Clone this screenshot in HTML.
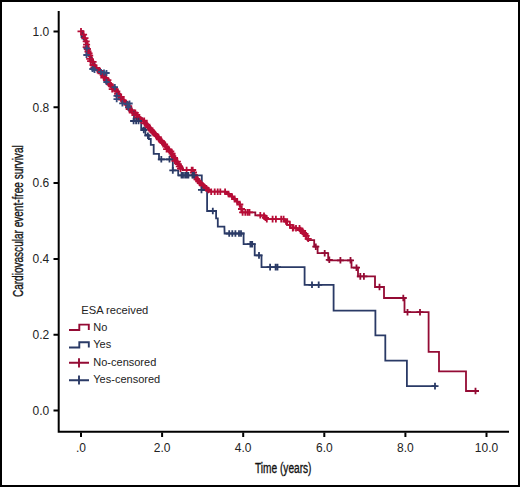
<!DOCTYPE html>
<html><head><meta charset="utf-8"><style>
html,body{margin:0;padding:0;background:#fff;}
body{width:520px;height:487px;position:relative;overflow:hidden;}
#frame{position:absolute;left:0;top:0;width:520px;height:487px;box-sizing:border-box;border:2px solid #000;background:#fff;}
</style></head><body><div id="frame"></div>
<svg width="520" height="487" viewBox="0 0 520 487" style="position:absolute;left:0;top:0">
<g stroke="#000" stroke-width="2" fill="none">
<path d="M58.7,11V432.7M57.7,431.7H509"/>
<path d="M53.5,410.6H58M53.5,334.8H58M53.5,259.0H58M53.5,183.1H58M53.5,107.3H58M53.5,31.5H58M81.0,432.5V437M162.1,432.5V437M243.2,432.5V437M324.3,432.5V437M405.4,432.5V437M486.5,432.5V437"/>
</g>
<g font-family="'Liberation Sans', sans-serif" font-size="12" fill="#222">
<text x="49.3" y="414.9" text-anchor="end">0.0</text>
<text x="49.3" y="339.1" text-anchor="end">0.2</text>
<text x="49.3" y="263.3" text-anchor="end">0.4</text>
<text x="49.3" y="187.4" text-anchor="end">0.6</text>
<text x="49.3" y="111.6" text-anchor="end">0.8</text>
<text x="49.3" y="35.8" text-anchor="end">1.0</text>
<text x="81.0" y="452" text-anchor="middle">.0</text>
<text x="162.1" y="452" text-anchor="middle">2.0</text>
<text x="243.2" y="452" text-anchor="middle">4.0</text>
<text x="324.3" y="452" text-anchor="middle">6.0</text>
<text x="405.4" y="452" text-anchor="middle">8.0</text>
<text x="486.5" y="452" text-anchor="middle">10.0</text>
</g>
<g font-family="'Liberation Sans', sans-serif" font-size="14" fill="#111" stroke="#111" stroke-width="0.35">
<text x="255" y="473" textLength="56.5" lengthAdjust="spacingAndGlyphs">Time (years)</text>
<text transform="translate(22.6,297.1) rotate(-90)" x="0" y="0" textLength="151.8" lengthAdjust="spacingAndGlyphs">Cardiovascular event-free survival</text>
</g>
<g fill="none" stroke-width="1.8" stroke-linejoin="miter" stroke-linecap="butt">
<path stroke="#940B34" d="M81.0,31.2L83.0,31.2L83.0,34.2L83.6,34.2L83.6,36.2L84.2,36.2L84.2,38.3L85.2,38.3L85.2,40.3L86.1,40.3L86.1,42.4L86.4,42.4L86.4,44.3L86.6,44.3L86.6,46.3L86.9,46.3L86.9,48.2L87.8,48.2L87.8,50.2L88.7,50.2L88.7,52.3L89.0,52.3L89.0,54.0L89.3,54.0L89.3,55.6L90.4,55.6L90.4,58.0L91.6,58.0L91.6,60.5L92.8,60.5L92.8,63.0L93.9,63.0L93.9,65.6L95.0,65.6L95.0,68.2L97.5,68.2L97.5,70.1L100.0,70.1L100.0,72.0L102.0,72.0L102.0,74.2L104.0,74.2L104.0,76.4L105.5,76.4L105.5,78.5L107.0,78.5L107.0,80.5L108.2,80.5L108.2,82.6L109.4,82.6L109.4,84.7L112.5,84.7L112.5,88.0L114.3,88.0L114.3,89.5L116.2,89.5L116.2,90.9L117.8,90.9L117.8,93.4L119.5,93.4L119.5,95.9L120.8,95.9L120.8,98.0L122.0,98.0L122.0,100.0L123.8,100.0L123.8,102.0L125.7,102.0L125.7,104.0L127.3,104.0L127.3,106.1L129.0,106.1L129.0,108.2L130.5,108.2L130.5,110.2L132.0,110.2L132.0,112.3L134.5,112.3L134.5,113.6L137.0,113.6L137.0,116.5L138.8,116.5L138.8,117.5L140.5,117.5L140.5,118.5L142.3,118.5L142.3,120.4L144.2,120.4L144.2,122.3L146.0,122.3L146.0,124.2L147.9,124.2L147.9,126.2L149.8,126.2L149.8,128.3L151.6,128.3L151.6,130.3L153.5,130.3L153.5,132.4L155.1,132.4L155.1,134.5L156.6,134.5L156.6,136.6L158.1,136.6L158.1,138.6L159.7,138.6L159.7,140.7L161.6,140.7L161.6,142.8L163.5,142.8L163.5,145.0L165.2,145.0L165.2,146.6L167.0,146.6L167.0,148.2L168.4,148.2L168.4,150.2L169.9,150.2L169.9,152.3L171.4,152.3L171.4,154.3L172.8,154.3L172.8,156.4L174.2,156.4L174.2,158.5L175.7,158.5L175.7,160.6L177.1,160.6L177.1,162.6L178.5,162.6L178.5,164.7L180.2,164.7L180.2,166.6L182.0,166.6L182.0,168.5L182.5,170.0L192.7,170.0L193.4,170.0L193.4,172.2L194.1,172.2L194.1,174.5L194.8,174.5L194.8,176.7L196.8,176.7L196.8,179.1L198.9,179.1L198.9,181.5L200.9,181.5L200.9,183.9L203.4,183.9L203.4,186.0L206.0,186.0L206.0,188.2L208.5,188.2L208.5,190.3L210.0,190.3L210.0,191.7L210.0,191.7L225.1,191.7L225.1,193.0L228.5,193.0L228.5,195.1L232.0,195.1L232.0,197.7L234.6,197.7L234.6,200.3L237.2,200.3L237.2,202.9L239.8,202.9L239.8,206.4L241.5,206.4L241.5,212.4L255.3,212.4L255.3,215.3L264.5,215.3L264.5,217.2L266.0,217.2L266.0,219.1L284.6,219.1L284.6,221.5L287.0,221.5L287.0,224.8L290.5,224.8L290.5,228.2L297.6,228.2L297.6,230.1L301.4,230.1L301.4,233.0L303.8,233.0L303.8,235.9L306.2,235.9L306.2,238.8L307.5,238.8L307.5,240.1L314.2,240.1L314.2,246.7L317.6,246.7L317.6,253.2L328.2,253.2L328.2,260.3L351.5,260.3L351.5,267.7L358.0,267.7L358.0,276.4L375.0,276.4L375.0,287.0L384.0,287.0L384.0,298.0L404.5,298.0L404.5,312.2L428.6,312.2L428.6,351.8L439.0,351.8L439.0,371.4L466.0,371.4L466.0,391.0L478.5,391.0"/>
<path stroke="#B70C36" stroke-width="3.6" stroke-linejoin="round" d="M84.8,38.3L86.7,42.4L87.5,48.2L89.3,52.3L89.9,55.6L92.2,60.5L93.4,63.0L95.6,68.2L100.6,72.0L104.6,76.4L107.6,80.5L110.0,84.7L113.1,88.0L116.8,90.9L120.1,95.9L122.6,100.0L126.3,104.0L129.6,108.2L132.6,112.3L135.1,113.6L137.6,116.5L141.1,118.5L146.6,124.2L154.1,132.4L160.3,140.7L164.1,145.0L167.6,148.2L173.4,156.4L179.1,164.7L182.6,168.5"/>
<path stroke="#2A3A66" d="M81.0,31.5L82.0,31.5L82.0,34.6L81.5,34.6L81.5,37.0L82.5,37.0L82.5,38.6L84.0,38.6L84.0,39.5L85.8,39.5L85.8,42.6L86.1,42.6L86.1,44.6L86.3,44.6L86.3,46.5L86.6,46.5L86.6,48.5L87.5,48.5L87.5,50.5L88.4,50.5L88.4,52.6L89.0,52.6L89.0,55.8L90.2,55.8L90.2,58.3L91.3,58.3L91.3,60.8L92.5,60.8L92.5,63.3L93.6,63.3L93.6,65.9L94.7,65.9L94.7,68.5L97.2,68.5L97.2,70.4L99.7,70.4L99.7,72.3L101.7,72.3L101.7,74.5L103.7,74.5L103.7,76.7L105.2,76.7L105.2,78.8L106.7,78.8L106.7,80.8L107.9,80.8L107.9,82.9L109.1,82.9L109.1,85.0L112.2,85.0L112.2,88.3L114.1,88.3L114.1,89.8L115.9,89.8L115.9,91.2L117.6,91.2L117.6,93.7L119.2,93.7L119.2,96.2L120.5,96.2L120.5,98.2L121.7,98.2L121.7,100.3L123.6,100.3L123.6,102.3L125.4,102.3L125.4,104.3L127.0,104.3L127.0,106.4L128.7,106.4L128.7,108.5L131.5,108.5L131.5,111.5L134.0,111.5L134.0,114.0L134.0,114.0L134.0,116.3L134.0,116.3L134.0,118.7L134.0,118.7L134.0,121.0L134.0,121.0L141.2,121.0L141.2,128.3L145.4,128.3L145.4,135.0L148.8,135.0L148.8,139.0L150.8,139.0L150.8,144.8L153.7,144.8L153.7,153.8L159.0,153.8L159.0,159.3L172.8,159.3L172.8,170.4L178.2,170.4L178.2,175.3L201.8,175.3L201.8,190.0L207.1,190.0L207.1,211.0L216.1,211.0L216.1,218.3L217.8,218.3L217.8,226.6L224.4,226.6L224.6,233.5L243.6,233.5L243.6,244.2L254.7,244.2L254.7,255.4L261.5,255.4L261.5,267.1L304.6,267.1L304.6,284.8L333.6,284.8L333.6,310.6L375.4,310.6L375.4,335.4L385.3,335.4L385.3,360.7L406.9,360.7L406.9,386.1L436.5,386.1"/>
<path stroke="#B70C36" d="M77.5,31.4H84.5M81.0,28.1V34.7M80.1,34.6H87.1M83.6,31.3V37.9M81.5,38.2H88.5M85.0,34.9V41.5M82.7,41.4H89.7M86.2,38.1V44.7M83.1,44.6H90.1M86.6,41.3V47.9M82.7,47.2H89.7M86.2,43.9V50.5M83.9,49.0H90.9M87.4,45.7V52.3M84.5,51.5H91.5M88.0,48.2V54.8M85.6,53.4H92.6M89.1,50.1V56.7M86.2,55.7H93.2M89.7,52.4V59.0M86.2,58.9H93.2M89.7,55.6V62.2M87.1,61.1H94.1M90.6,57.8V64.4M89.6,61.8H96.6M93.1,58.5V65.1M89.5,65.0H96.5M93.0,61.7V68.3M90.4,67.3H97.4M93.9,64.0V70.6M93.1,67.8H100.1M96.6,64.5V71.1M94.1,70.2H101.1M97.6,66.9V73.5M96.6,71.0H103.6M100.1,67.7V74.3M97.7,73.4H104.7M101.2,70.1V76.7M99.6,74.9H106.6M103.1,71.6V78.2M100.3,77.6H107.3M103.8,74.3V80.9M102.6,78.6H109.6M106.1,75.3V81.9M104.4,80.2H111.4M107.9,76.9V83.5M104.9,82.9H111.9M108.4,79.6V86.2M106.6,84.5H113.6M110.1,81.2V87.8M108.1,86.4H115.1M111.6,83.1V89.7M108.7,89.2H115.7M112.2,85.9V92.5M111.8,89.4H118.8M115.3,86.1V92.7M113.3,91.3H120.3M116.8,88.0V94.6M114.1,93.9H121.1M117.6,90.6V97.2M114.9,96.4H121.9M118.4,93.1V99.7M117.7,96.9H124.7M121.2,93.6V100.2M118.2,99.6H125.2M121.7,96.3V102.9M120.2,101.0H127.2M123.7,97.7V104.3M122.1,102.5H129.1M125.6,99.2V105.8M123.4,104.6H130.4M126.9,101.3V107.9M125.2,106.1H132.2M128.7,102.8V109.4M125.7,109.0H132.7M129.2,105.7V112.3M127.9,110.2H134.9M131.4,106.9V113.5M128.8,112.6H135.8M132.3,109.3V115.9M131.8,112.8H138.8M135.3,109.5V116.1M133.3,114.8H140.3M136.8,111.5V118.1M133.6,117.7H140.6M137.1,114.4V121.0M135.8,118.9H142.8M139.3,115.6V122.2M137.7,120.3H144.7M141.2,117.0V123.6M140.7,120.7H147.7M144.2,117.4V124.0M141.4,123.3H148.4M144.9,120.0V126.6M143.4,124.7H150.4M146.9,121.4V128.0M144.5,127.1H151.5M148.0,123.8V130.4M146.5,128.5H153.5M150.0,125.2V131.8M147.9,130.5H154.9M151.4,127.2V133.8M149.4,132.3H156.4M152.9,129.0V135.6M151.3,133.8H158.3M154.8,130.5V137.1M152.7,135.7H159.7M156.2,132.4V139.0M154.8,137.1H161.8M158.3,133.8V140.4M155.8,139.4H162.8M159.3,136.1V142.7M157.8,140.8H164.8M161.3,137.5V144.1M159.2,142.7H166.2M162.7,139.4V146.0M161.1,144.3H168.1M164.6,141.0V147.6M162.3,146.5H169.3M165.8,143.2V149.8M163.1,149.1H170.1M166.6,145.8V152.4M165.7,149.7H172.7M169.2,146.4V153.0M167.3,151.5H174.3M170.8,148.2V154.8M168.6,153.6H175.6M172.1,150.3V156.9M169.3,156.2H176.3M172.8,152.9V159.5M171.0,157.9H178.0M174.5,154.6V161.2M171.4,160.8H178.4M174.9,157.5V164.1M173.9,161.6H180.9M177.4,158.3V164.9M174.8,164.1H181.8M178.3,160.8V167.4M175.8,166.4H182.8M179.3,163.1V169.7M177.0,168.6H184.0M180.5,165.3V171.9M183.1,170.0H190.1M186.6,166.7V173.3M188.2,170.0H195.2M191.7,166.7V173.3M189.2,170.0H196.2M192.7,166.7V173.3M190.0,172.5H197.0M193.5,169.2V175.8M190.8,175.0H197.8M194.3,171.7V178.3M191.8,177.3H198.8M195.3,174.0V180.6M193.5,179.3H200.5M197.0,176.0V182.6M195.2,181.3H202.2M198.7,178.0V184.6M196.8,183.2H203.8M200.3,179.9V186.5M198.7,185.0H205.7M202.2,181.7V188.3M200.7,186.7H207.7M204.2,183.4V190.0M202.7,188.4H209.7M206.2,185.1V191.7M204.7,190.0H211.7M208.2,186.7V193.3M207.7,191.7H214.7M211.2,188.4V195.0M211.2,191.7H218.2M214.7,188.4V195.0M214.2,191.7H221.2M217.7,188.4V195.0M216.8,191.7H223.8M220.3,188.4V195.0M221.6,191.7H228.6M225.1,188.4V195.0M225.0,194.0H232.0M228.5,190.7V197.3M228.5,196.5H235.5M232.0,193.2V199.8M231.1,199.0H238.1M234.6,195.7V202.3M233.7,201.6H240.7M237.2,198.3V204.9M236.3,204.5H243.3M239.8,201.2V207.8M238.0,209.0H245.0M241.5,205.7V212.3M239.1,212.4H246.1M242.6,209.1V215.7M241.8,212.4H248.8M245.3,209.1V215.7M244.1,212.4H251.1M247.6,209.1V215.7M246.0,212.4H253.0M249.5,209.1V215.7M256.8,215.3H263.8M260.3,212.0V218.6M260.5,215.8H267.5M264.0,212.5V219.1M262.0,217.8H269.0M265.5,214.5V221.1M263.3,219.1H270.3M266.8,215.8V222.4M269.1,219.1H276.1M272.6,215.8V222.4M272.4,219.1H279.4M275.9,215.8V222.4M277.7,219.1H284.7M281.2,215.8V222.4M280.1,219.1H287.1M283.6,215.8V222.4M282.5,221.5H289.5M286.0,218.2V224.8M283.7,221.6H290.7M287.2,218.3V224.9M286.4,224.8H293.4M289.9,221.5V228.1M289.3,228.2H296.3M292.8,224.9V231.5M290.0,227.5H297.0M293.5,224.2V230.8M292.5,228.2H299.5M296.0,224.9V231.5M296.0,228.4H303.0M299.5,225.1V231.7M297.0,230.1H304.0M300.5,226.8V233.4M299.1,231.0H306.1M302.6,227.7V234.3M300.1,233.0H307.1M303.6,229.7V236.3M301.5,234.0H308.5M305.0,230.7V237.3M302.7,235.9H309.7M306.2,232.6V239.2M304.7,238.8H311.7M308.2,235.5V242.1"/>
<path stroke="#940B34" d="M312.3,246.7H319.3M315.8,243.4V250.0M321.2,253.2H328.2M324.7,249.9V256.5M325.8,259.8H332.8M329.3,256.5V263.1M336.9,260.3H343.9M340.4,257.0V263.6M347.0,260.3H354.0M350.5,257.0V263.6M353.0,267.7H360.0M356.5,264.4V271.0M356.8,276.4H363.8M360.3,273.1V279.7M360.4,276.4H367.4M363.9,273.1V279.7M376.0,287.0H383.0M379.5,283.7V290.3M399.8,298.0H406.8M403.3,294.7V301.3M404.0,312.2H411.0M407.5,308.9V315.5M416.5,312.2H423.5M420.0,308.9V315.5M472.0,391.0H479.0M475.5,387.7V394.3"/>
<path stroke="#34497A" d="M83.5,48.4H89.9M86.7,45.3V51.5M83.3,55.0H89.7M86.5,51.9V58.1M89.3,69.0H95.7M92.5,65.9V72.1M91.3,70.0H97.7M94.5,66.9V73.1M97.8,72.0H104.2M101.0,68.9V75.1M100.8,72.5H107.2M104.0,69.4V75.6M103.3,73.0H109.7M106.5,69.9V76.1M103.3,82.0H109.7M106.5,78.9V85.1M111.6,87.1H118.0M114.8,84.0V90.2M113.5,95.9H119.9M116.7,92.8V99.0M113.5,99.1H119.9M116.7,96.0V102.2M119.2,103.3H125.6M122.4,100.2V106.4M124.0,104.2H130.4M127.2,101.1V107.3M126.3,103.5H132.7M129.5,100.4V106.6M125.0,107.4H131.4M128.2,104.3V110.5"/>
<path stroke="#2A3A66" d="M130.1,121.0H137.1M133.6,117.7V124.3M132.6,121.0H139.6M136.1,117.7V124.3M135.0,121.0H142.0M138.5,117.7V124.3M140.3,130.0H147.3M143.8,126.7V133.3M144.4,135.7H151.4M147.9,132.4V139.0M157.8,159.3H164.8M161.3,156.0V162.6M166.0,159.3H173.0M169.5,156.0V162.6M169.3,170.4H176.3M172.8,167.1V173.7M178.0,175.3H185.0M181.5,172.0V178.6M179.5,175.3H186.5M183.0,172.0V178.6M181.6,175.3H188.6M185.1,172.0V178.6M183.3,175.3H190.3M186.8,172.0V178.6M184.9,175.3H191.9M188.4,172.0V178.6M189.0,175.3H196.0M192.5,172.0V178.6M190.5,175.3H197.5M194.0,172.0V178.6M198.0,189.9H205.0M201.5,186.6V193.2M209.3,211.0H216.3M212.8,207.7V214.3M225.7,233.5H232.7M229.2,230.2V236.8M228.8,233.5H235.8M232.3,230.2V236.8M231.9,233.5H238.9M235.4,230.2V236.8M235.5,233.5H242.5M239.0,230.2V236.8M237.5,233.5H244.5M241.0,230.2V236.8M246.9,244.2H253.9M250.4,240.9V247.5M248.7,244.2H255.7M252.2,240.9V247.5M255.5,255.4H262.5M259.0,252.1V258.7M266.6,267.1H273.6M270.1,263.8V270.4M272.1,267.1H279.1M275.6,263.8V270.4M274.0,267.1H281.0M277.5,263.8V270.4M308.5,284.8H315.5M312.0,281.5V288.1M315.2,284.8H322.2M318.7,281.5V288.1M431.5,386.1H438.5M435.0,382.8V389.4"/>
</g>
<g font-family="'Liberation Sans', sans-serif" font-size="11" fill="#222">
<text x="81.3" y="313.5" textLength="67" lengthAdjust="spacingAndGlyphs">ESA received</text>
<text x="93.3" y="330.5">No</text>
<text x="93.3" y="348">Yes</text>
<text x="93.3" y="365.5">No-censored</text>
<text x="93.3" y="383">Yes-censored</text>
</g>
<g fill="none" stroke-width="1.9">
<path stroke="#940B34" d="M69,330H79.3V324.6H88.8V330"/>
<path stroke="#2A3A66" d="M69,347.5H79.3V342.2H88.8V347.5"/>
<path stroke="#940B34" d="M69,362.8H89M79,358.3V367.5"/>
<path stroke="#2A3A66" d="M69,380.2H89M79,375.6V384.6"/>
</g>
</svg>
</body></html>
